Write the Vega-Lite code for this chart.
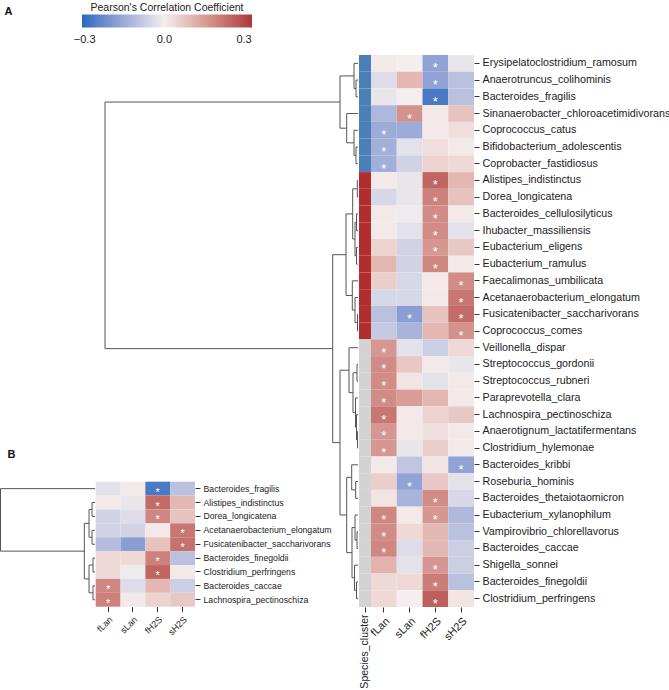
{
"$schema": "https://vega.github.io/schema/vega-lite/v6.json",
"width": 669, "height": 690, "autosize": "none", "padding": 0, "background": "white",
"config": {"view": {"stroke": null}, "font": "Liberation Sans",
  "axis": {"labelFont": "Liberation Sans", "titleFont": "Liberation Sans", "domain": false, "grid": false, "tickColor": "#333", "labelColor": "#222", "tickSize": 5, "labelPadding": 3, "labelLimit": 400},
  "legend": {"labelFont": "Liberation Sans", "titleFont": "Liberation Sans"}},
"datasets": {
"A": [
{"sp":"Erysipelatoclostridium_ramosum","v":"fLan","r":0.01,"s":0},{"sp":"Erysipelatoclostridium_ramosum","v":"sLan","r":0.0,"s":0},{"sp":"Erysipelatoclostridium_ramosum","v":"fH2S","r":-0.17,"s":1},{"sp":"Erysipelatoclostridium_ramosum","v":"sH2S","r":-0.02,"s":0},
{"sp":"Anaerotruncus_colihominis","v":"fLan","r":-0.04,"s":0},{"sp":"Anaerotruncus_colihominis","v":"sLan","r":0.1,"s":0},{"sp":"Anaerotruncus_colihominis","v":"fH2S","r":-0.17,"s":1},{"sp":"Anaerotruncus_colihominis","v":"sH2S","r":-0.1,"s":0},
{"sp":"Bacteroides_fragilis","v":"fLan","r":-0.02,"s":0},{"sp":"Bacteroides_fragilis","v":"sLan","r":0.0,"s":0},{"sp":"Bacteroides_fragilis","v":"fH2S","r":-0.27,"s":1},{"sp":"Bacteroides_fragilis","v":"sH2S","r":-0.1,"s":0},
{"sp":"Sinanaerobacter_chloroacetimidivorans","v":"fLan","r":-0.12,"s":0},{"sp":"Sinanaerobacter_chloroacetimidivorans","v":"sLan","r":0.17,"s":1},{"sp":"Sinanaerobacter_chloroacetimidivorans","v":"fH2S","r":0.01,"s":0},{"sp":"Sinanaerobacter_chloroacetimidivorans","v":"sH2S","r":0.08,"s":0},
{"sp":"Coprococcus_catus","v":"fLan","r":-0.15,"s":1},{"sp":"Coprococcus_catus","v":"sLan","r":-0.15,"s":0},{"sp":"Coprococcus_catus","v":"fH2S","r":0.01,"s":0},{"sp":"Coprococcus_catus","v":"sH2S","r":0.03,"s":0},
{"sp":"Bifidobacterium_adolescentis","v":"fLan","r":-0.14,"s":1},{"sp":"Bifidobacterium_adolescentis","v":"sLan","r":-0.03,"s":0},{"sp":"Bifidobacterium_adolescentis","v":"fH2S","r":0.03,"s":0},{"sp":"Bifidobacterium_adolescentis","v":"sH2S","r":0.01,"s":0},
{"sp":"Coprobacter_fastidiosus","v":"fLan","r":-0.14,"s":1},{"sp":"Coprobacter_fastidiosus","v":"sLan","r":-0.06,"s":0},{"sp":"Coprobacter_fastidiosus","v":"fH2S","r":0.05,"s":0},{"sp":"Coprobacter_fastidiosus","v":"sH2S","r":0.04,"s":0},
{"sp":"Alistipes_indistinctus","v":"fLan","r":0.01,"s":0},{"sp":"Alistipes_indistinctus","v":"sLan","r":-0.02,"s":0},{"sp":"Alistipes_indistinctus","v":"fH2S","r":0.25,"s":1},{"sp":"Alistipes_indistinctus","v":"sH2S","r":0.1,"s":0},
{"sp":"Dorea_longicatena","v":"fLan","r":-0.05,"s":0},{"sp":"Dorea_longicatena","v":"sLan","r":-0.02,"s":0},{"sp":"Dorea_longicatena","v":"fH2S","r":0.2,"s":1},{"sp":"Dorea_longicatena","v":"sH2S","r":0.08,"s":0},
{"sp":"Bacteroides_cellulosilyticus","v":"fLan","r":0.01,"s":0},{"sp":"Bacteroides_cellulosilyticus","v":"sLan","r":-0.01,"s":0},{"sp":"Bacteroides_cellulosilyticus","v":"fH2S","r":0.18,"s":1},{"sp":"Bacteroides_cellulosilyticus","v":"sH2S","r":0.01,"s":0},
{"sp":"Ihubacter_massiliensis","v":"fLan","r":0.01,"s":0},{"sp":"Ihubacter_massiliensis","v":"sLan","r":-0.03,"s":0},{"sp":"Ihubacter_massiliensis","v":"fH2S","r":0.18,"s":1},{"sp":"Ihubacter_massiliensis","v":"sH2S","r":-0.03,"s":0},
{"sp":"Eubacterium_eligens","v":"fLan","r":0.05,"s":0},{"sp":"Eubacterium_eligens","v":"sLan","r":-0.06,"s":0},{"sp":"Eubacterium_eligens","v":"fH2S","r":0.16,"s":1},{"sp":"Eubacterium_eligens","v":"sH2S","r":0.07,"s":0},
{"sp":"Eubacterium_ramulus","v":"fLan","r":0.1,"s":0},{"sp":"Eubacterium_ramulus","v":"sLan","r":-0.06,"s":0},{"sp":"Eubacterium_ramulus","v":"fH2S","r":0.19,"s":1},{"sp":"Eubacterium_ramulus","v":"sH2S","r":0.01,"s":0},
{"sp":"Faecalimonas_umbilicata","v":"fLan","r":0.06,"s":0},{"sp":"Faecalimonas_umbilicata","v":"sLan","r":-0.05,"s":0},{"sp":"Faecalimonas_umbilicata","v":"fH2S","r":0.01,"s":0},{"sp":"Faecalimonas_umbilicata","v":"sH2S","r":0.18,"s":1},
{"sp":"Acetanaerobacterium_elongatum","v":"fLan","r":-0.05,"s":0},{"sp":"Acetanaerobacterium_elongatum","v":"sLan","r":-0.05,"s":0},{"sp":"Acetanaerobacterium_elongatum","v":"fH2S","r":0.01,"s":0},{"sp":"Acetanaerobacterium_elongatum","v":"sH2S","r":0.22,"s":1},
{"sp":"Fusicatenibacter_saccharivorans","v":"fLan","r":-0.1,"s":0},{"sp":"Fusicatenibacter_saccharivorans","v":"sLan","r":-0.18,"s":1},{"sp":"Fusicatenibacter_saccharivorans","v":"fH2S","r":0.08,"s":0},{"sp":"Fusicatenibacter_saccharivorans","v":"sH2S","r":0.24,"s":1},
{"sp":"Coprococcus_comes","v":"fLan","r":-0.08,"s":0},{"sp":"Coprococcus_comes","v":"sLan","r":-0.13,"s":0},{"sp":"Coprococcus_comes","v":"fH2S","r":0.1,"s":0},{"sp":"Coprococcus_comes","v":"sH2S","r":0.17,"s":1},
{"sp":"Veillonella_dispar","v":"fLan","r":0.16,"s":1},{"sp":"Veillonella_dispar","v":"sLan","r":-0.03,"s":0},{"sp":"Veillonella_dispar","v":"fH2S","r":-0.07,"s":0},{"sp":"Veillonella_dispar","v":"sH2S","r":0.04,"s":0},
{"sp":"Streptococcus_gordonii","v":"fLan","r":0.18,"s":1},{"sp":"Streptococcus_gordonii","v":"sLan","r":0.07,"s":0},{"sp":"Streptococcus_gordonii","v":"fH2S","r":0.01,"s":0},{"sp":"Streptococcus_gordonii","v":"sH2S","r":-0.02,"s":0},
{"sp":"Streptococcus_rubneri","v":"fLan","r":0.18,"s":1},{"sp":"Streptococcus_rubneri","v":"sLan","r":0.02,"s":0},{"sp":"Streptococcus_rubneri","v":"fH2S","r":-0.03,"s":0},{"sp":"Streptococcus_rubneri","v":"sH2S","r":0.01,"s":0},
{"sp":"Paraprevotella_clara","v":"fLan","r":0.18,"s":1},{"sp":"Paraprevotella_clara","v":"sLan","r":0.15,"s":0},{"sp":"Paraprevotella_clara","v":"fH2S","r":0.1,"s":0},{"sp":"Paraprevotella_clara","v":"sH2S","r":0.01,"s":0},
{"sp":"Lachnospira_pectinoschiza","v":"fLan","r":0.22,"s":1},{"sp":"Lachnospira_pectinoschiza","v":"sLan","r":0.01,"s":0},{"sp":"Lachnospira_pectinoschiza","v":"fH2S","r":0.05,"s":0},{"sp":"Lachnospira_pectinoschiza","v":"sH2S","r":0.07,"s":0},
{"sp":"Anaerotignum_lactatifermentans","v":"fLan","r":0.16,"s":1},{"sp":"Anaerotignum_lactatifermentans","v":"sLan","r":0.01,"s":0},{"sp":"Anaerotignum_lactatifermentans","v":"fH2S","r":0.03,"s":0},{"sp":"Anaerotignum_lactatifermentans","v":"sH2S","r":0.01,"s":0},
{"sp":"Clostridium_hylemonae","v":"fLan","r":0.16,"s":1},{"sp":"Clostridium_hylemonae","v":"sLan","r":-0.02,"s":0},{"sp":"Clostridium_hylemonae","v":"fH2S","r":0.06,"s":0},{"sp":"Clostridium_hylemonae","v":"sH2S","r":0.01,"s":0},
{"sp":"Bacteroides_kribbi","v":"fLan","r":0.01,"s":0},{"sp":"Bacteroides_kribbi","v":"sLan","r":-0.09,"s":0},{"sp":"Bacteroides_kribbi","v":"fH2S","r":0.02,"s":0},{"sp":"Bacteroides_kribbi","v":"sH2S","r":-0.17,"s":1},
{"sp":"Roseburia_hominis","v":"fLan","r":0.06,"s":0},{"sp":"Roseburia_hominis","v":"sLan","r":-0.17,"s":1},{"sp":"Roseburia_hominis","v":"fH2S","r":0.07,"s":0},{"sp":"Roseburia_hominis","v":"sH2S","r":-0.03,"s":0},
{"sp":"Bacteroides_thetaiotaomicron","v":"fLan","r":0.02,"s":0},{"sp":"Bacteroides_thetaiotaomicron","v":"sLan","r":-0.13,"s":0},{"sp":"Bacteroides_thetaiotaomicron","v":"fH2S","r":0.18,"s":1},{"sp":"Bacteroides_thetaiotaomicron","v":"sH2S","r":-0.05,"s":0},
{"sp":"Eubacterium_xylanophilum","v":"fLan","r":0.19,"s":1},{"sp":"Eubacterium_xylanophilum","v":"sLan","r":0.01,"s":0},{"sp":"Eubacterium_xylanophilum","v":"fH2S","r":0.16,"s":1},{"sp":"Eubacterium_xylanophilum","v":"sH2S","r":-0.12,"s":0},
{"sp":"Vampirovibrio_chlorellavorus","v":"fLan","r":0.18,"s":1},{"sp":"Vampirovibrio_chlorellavorus","v":"sLan","r":0.04,"s":0},{"sp":"Vampirovibrio_chlorellavorus","v":"fH2S","r":0.1,"s":0},{"sp":"Vampirovibrio_chlorellavorus","v":"sH2S","r":-0.1,"s":0},
{"sp":"Bacteroides_caccae","v":"fLan","r":0.19,"s":1},{"sp":"Bacteroides_caccae","v":"sLan","r":-0.04,"s":0},{"sp":"Bacteroides_caccae","v":"fH2S","r":0.1,"s":0},{"sp":"Bacteroides_caccae","v":"sH2S","r":-0.07,"s":0},
{"sp":"Shigella_sonnei","v":"fLan","r":0.11,"s":0},{"sp":"Shigella_sonnei","v":"sLan","r":-0.03,"s":0},{"sp":"Shigella_sonnei","v":"fH2S","r":0.16,"s":1},{"sp":"Shigella_sonnei","v":"sH2S","r":-0.07,"s":0},
{"sp":"Bacteroides_finegoldii","v":"fLan","r":0.04,"s":0},{"sp":"Bacteroides_finegoldii","v":"sLan","r":0.04,"s":0},{"sp":"Bacteroides_finegoldii","v":"fH2S","r":0.21,"s":1},{"sp":"Bacteroides_finegoldii","v":"sH2S","r":-0.1,"s":0},
{"sp":"Clostridium_perfringens","v":"fLan","r":0.04,"s":0},{"sp":"Clostridium_perfringens","v":"sLan","r":0.0,"s":0},{"sp":"Clostridium_perfringens","v":"fH2S","r":0.26,"s":1},{"sp":"Clostridium_perfringens","v":"sH2S","r":0.02,"s":0}
],
"clusters": [
{"sp":"Erysipelatoclostridium_ramosum","c":"1"},{"sp":"Anaerotruncus_colihominis","c":"1"},{"sp":"Bacteroides_fragilis","c":"1"},{"sp":"Sinanaerobacter_chloroacetimidivorans","c":"1"},{"sp":"Coprococcus_catus","c":"1"},{"sp":"Bifidobacterium_adolescentis","c":"1"},{"sp":"Coprobacter_fastidiosus","c":"1"},
{"sp":"Alistipes_indistinctus","c":"2"},{"sp":"Dorea_longicatena","c":"2"},{"sp":"Bacteroides_cellulosilyticus","c":"2"},{"sp":"Ihubacter_massiliensis","c":"2"},{"sp":"Eubacterium_eligens","c":"2"},{"sp":"Eubacterium_ramulus","c":"2"},{"sp":"Faecalimonas_umbilicata","c":"2"},{"sp":"Acetanaerobacterium_elongatum","c":"2"},{"sp":"Fusicatenibacter_saccharivorans","c":"2"},{"sp":"Coprococcus_comes","c":"2"},
{"sp":"Veillonella_dispar","c":"3"},{"sp":"Streptococcus_gordonii","c":"3"},{"sp":"Streptococcus_rubneri","c":"3"},{"sp":"Paraprevotella_clara","c":"3"},{"sp":"Lachnospira_pectinoschiza","c":"3"},{"sp":"Anaerotignum_lactatifermentans","c":"3"},{"sp":"Clostridium_hylemonae","c":"3"},{"sp":"Bacteroides_kribbi","c":"3"},{"sp":"Roseburia_hominis","c":"3"},{"sp":"Bacteroides_thetaiotaomicron","c":"3"},{"sp":"Eubacterium_xylanophilum","c":"3"},{"sp":"Vampirovibrio_chlorellavorus","c":"3"},{"sp":"Bacteroides_caccae","c":"3"},{"sp":"Shigella_sonnei","c":"3"},{"sp":"Bacteroides_finegoldii","c":"3"},{"sp":"Clostridium_perfringens","c":"3"}
],
"B": [
{"sp":"Bacteroides_fragilis","v":"fLan","r":-0.03,"s":0},{"sp":"Bacteroides_fragilis","v":"sLan","r":0.01,"s":0},{"sp":"Bacteroides_fragilis","v":"fH2S","r":-0.27,"s":1},{"sp":"Bacteroides_fragilis","v":"sH2S","r":-0.1,"s":0},
{"sp":"Alistipes_indistinctus","v":"fLan","r":0.01,"s":0},{"sp":"Alistipes_indistinctus","v":"sLan","r":-0.02,"s":0},{"sp":"Alistipes_indistinctus","v":"fH2S","r":0.24,"s":1},{"sp":"Alistipes_indistinctus","v":"sH2S","r":0.1,"s":0},
{"sp":"Dorea_longicatena","v":"fLan","r":-0.06,"s":0},{"sp":"Dorea_longicatena","v":"sLan","r":-0.04,"s":0},{"sp":"Dorea_longicatena","v":"fH2S","r":0.19,"s":1},{"sp":"Dorea_longicatena","v":"sH2S","r":0.08,"s":0},
{"sp":"Acetanaerobacterium_elongatum","v":"fLan","r":-0.06,"s":0},{"sp":"Acetanaerobacterium_elongatum","v":"sLan","r":-0.06,"s":0},{"sp":"Acetanaerobacterium_elongatum","v":"fH2S","r":0.01,"s":0},{"sp":"Acetanaerobacterium_elongatum","v":"sH2S","r":0.22,"s":1},
{"sp":"Fusicatenibacter_saccharivorans","v":"fLan","r":-0.11,"s":0},{"sp":"Fusicatenibacter_saccharivorans","v":"sLan","r":-0.18,"s":0},{"sp":"Fusicatenibacter_saccharivorans","v":"fH2S","r":0.08,"s":0},{"sp":"Fusicatenibacter_saccharivorans","v":"sH2S","r":0.23,"s":1},
{"sp":"Bacteroides_finegoldii","v":"fLan","r":0.04,"s":0},{"sp":"Bacteroides_finegoldii","v":"sLan","r":0.04,"s":0},{"sp":"Bacteroides_finegoldii","v":"fH2S","r":0.2,"s":1},{"sp":"Bacteroides_finegoldii","v":"sH2S","r":-0.1,"s":0},
{"sp":"Clostridium_perfringens","v":"fLan","r":0.04,"s":0},{"sp":"Clostridium_perfringens","v":"sLan","r":-0.01,"s":0},{"sp":"Clostridium_perfringens","v":"fH2S","r":0.25,"s":1},{"sp":"Clostridium_perfringens","v":"sH2S","r":0.01,"s":0},
{"sp":"Bacteroides_caccae","v":"fLan","r":0.19,"s":1},{"sp":"Bacteroides_caccae","v":"sLan","r":-0.04,"s":0},{"sp":"Bacteroides_caccae","v":"fH2S","r":0.1,"s":0},{"sp":"Bacteroides_caccae","v":"sH2S","r":-0.07,"s":0},
{"sp":"Lachnospira_pectinoschiza","v":"fLan","r":0.2,"s":1},{"sp":"Lachnospira_pectinoschiza","v":"sLan","r":0.01,"s":0},{"sp":"Lachnospira_pectinoschiza","v":"fH2S","r":0.05,"s":0},{"sp":"Lachnospira_pectinoschiza","v":"sH2S","r":0.07,"s":0}
],
"treeA": [
{"h":0.2,"hL":0,"yL":1,"hR":0,"yR":2},
{"h":0.4,"hL":0,"yL":0,"hR":0.2,"yR":1.5},
{"h":0.2,"hL":0,"yL":5,"hR":0,"yR":6},
{"h":0.4,"hL":0,"yL":4,"hR":0.2,"yR":5.5},
{"h":1.13,"hL":0,"yL":3,"hR":0.4,"yR":4.75},
{"h":1.8,"hL":0.4,"yL":0.75,"hR":1.13,"yR":3.875},
{"h":0.07,"hL":0,"yL":7,"hR":0,"yR":8},
{"h":0.15,"hL":0,"yL":9,"hR":0,"yR":10},
{"h":0.15,"hL":0,"yL":11,"hR":0,"yR":12},
{"h":0.3,"hL":0.15,"yL":9.5,"hR":0.15,"yR":11.5},
{"h":0.53,"hL":0.07,"yL":7.5,"hR":0.3,"yR":10.5},
{"h":0.05,"hL":0,"yL":15,"hR":0,"yR":16},
{"h":0.3,"hL":0,"yL":14,"hR":0.05,"yR":15.5},
{"h":0.57,"hL":0,"yL":13,"hR":0.3,"yR":14.75},
{"h":1.2,"hL":0.53,"yL":9,"hR":0.57,"yR":13.875},
{"h":0.1,"hL":0,"yL":18,"hR":0,"yR":19},
{"h":0.05,"hL":0,"yL":22,"hR":0,"yR":23},
{"h":0.15,"hL":0,"yL":21,"hR":0.05,"yR":22.5},
{"h":0.25,"hL":0,"yL":20,"hR":0.15,"yR":21.75},
{"h":0.5,"hL":0.1,"yL":18.5,"hR":0.25,"yR":20.875},
{"h":0.9,"hL":0,"yL":17,"hR":0.5,"yR":19.6875},
{"h":0.23,"hL":0,"yL":25,"hR":0,"yR":26},
{"h":0.63,"hL":0,"yL":24,"hR":0.23,"yR":25.5},
{"h":0.1,"hL":0,"yL":28,"hR":0,"yR":29},
{"h":0.3,"hL":0,"yL":27,"hR":0.1,"yR":28.5},
{"h":0.15,"hL":0,"yL":31,"hR":0,"yR":32},
{"h":0.35,"hL":0,"yL":30,"hR":0.15,"yR":31.5},
{"h":0.6,"hL":0.3,"yL":27.75,"hR":0.35,"yR":30.75},
{"h":1.13,"hL":0.63,"yL":24.75,"hR":0.6,"yR":29.25},
{"h":1.8,"hL":0.9,"yL":18.34375,"hR":1.13,"yR":27},
{"h":2.53,"hL":1.2,"yL":11.4375,"hR":1.8,"yR":22.671875},
{"h":25.3,"hL":1.8,"yL":2.3125,"hR":2.53,"yR":17.0546875}
],
"treeB": [
{"h":0.3,"hL":0,"yL":1,"hR":0,"yR":2},
{"h":0.3,"hL":0,"yL":3,"hR":0,"yR":4},
{"h":0.6,"hL":0.3,"yL":1.5,"hR":0.3,"yR":3.5},
{"h":0.2,"hL":0,"yL":5,"hR":0,"yR":6},
{"h":0.2,"hL":0,"yL":7,"hR":0,"yR":8},
{"h":0.6,"hL":0.2,"yL":5.5,"hR":0.2,"yR":7.5},
{"h":1.07,"hL":0.6,"yL":2.5,"hR":0.6,"yR":6.5},
{"h":9.5,"hL":0,"yL":0,"hR":1.07,"yR":4.5}
]
},
"resolve": {"scale": {"x": "independent", "y": "independent", "color": "shared", "fill": "independent"}, "axis": {"x": "independent", "y": "independent"}},
"layer": [
{"data": {"name": "treeA"},
 "layer": [
  {"mark": {"type": "rule", "color": "#555", "strokeWidth": 1},
   "encoding": {"x": {"field": "hL", "type": "quantitative", "scale": {"domain": [0, 25.3], "range": [358, 105], "nice": false, "zero": false}, "axis": null},
     "x2": {"field": "h"},
     "y": {"field": "yL", "type": "quantitative", "scale": {"domain": [-0.5, 32.5], "range": [55, 607], "nice": false, "zero": false},
       "axis": {"orient": "left", "title": "A", "labels": false, "ticks": false, "domain": false, "titleAngle": 0, "titleX": 4, "titleY": 5, "titleAlign": "left", "titleBaseline": "top", "titleFontSize": 11, "titleFontWeight": "bold", "titleColor": "#111"}}}},
  {"mark": {"type": "rule", "color": "#555", "strokeWidth": 1},
   "encoding": {"x": {"field": "hR", "type": "quantitative"}, "x2": {"field": "h"}, "y": {"field": "yR", "type": "quantitative"}}},
  {"mark": {"type": "rule", "color": "#555", "strokeWidth": 1},
   "encoding": {"x": {"field": "h", "type": "quantitative"}, "y": {"field": "yL", "type": "quantitative"}, "y2": {"field": "yR"}}}
 ]},
{"data": {"name": "treeB"},
 "layer": [
  {"mark": {"type": "rule", "color": "#555", "strokeWidth": 1},
   "encoding": {"x": {"field": "hL", "type": "quantitative", "scale": {"domain": [0, 9.5], "range": [95, 0.5], "nice": false, "zero": false}, "axis": null},
     "x2": {"field": "h"},
     "y": {"field": "yL", "type": "quantitative", "scale": {"domain": [-0.5, 8.5], "range": [481.7, 606.7], "nice": false, "zero": false},
       "axis": {"orient": "left", "title": "B", "labels": false, "ticks": false, "domain": false, "titleAngle": 0, "titleX": 7, "titleY": 448, "titleAlign": "left", "titleBaseline": "top", "titleFontSize": 11, "titleFontWeight": "bold", "titleColor": "#111"}}}},
  {"mark": {"type": "rule", "color": "#555", "strokeWidth": 1},
   "encoding": {"x": {"field": "hR", "type": "quantitative"}, "x2": {"field": "h"}, "y": {"field": "yR", "type": "quantitative"}}},
  {"mark": {"type": "rule", "color": "#555", "strokeWidth": 1},
   "encoding": {"x": {"field": "h", "type": "quantitative"}, "y": {"field": "yL", "type": "quantitative"}, "y2": {"field": "yR"}}}
 ]},
{"data": {"name": "clusters"},
 "mark": {"type": "rect"},
 "encoding": {
   "x": {"datum": "Species_cluster", "type": "nominal", "scale": {"domain": ["Species_cluster"], "range": [359, 371], "paddingInner": 0, "paddingOuter": 0},
     "axis": {"orient": "bottom", "offset": -83, "title": null, "labelAngle": -90, "labelFontSize": 10.5, "labelPadding": 2, "labelColor": "#222"}},
   "y": {"field": "sp", "type": "nominal", "sort": null, "scale": {"range": [55, 607], "paddingInner": 0, "paddingOuter": 0}, "axis": null},
   "fill": {"field": "c", "type": "nominal", "scale": {"domain": ["1", "2", "3"], "range": ["#4c7fb8", "#b22d2e", "#d3d3d3"]}, "legend": null}}},
{"data": {"name": "A"},
 "encoding": {
   "x": {"field": "v", "type": "nominal", "sort": null, "scale": {"domain": ["fLan", "sLan", "fH2S", "sH2S"], "range": [371, 474], "paddingInner": 0, "paddingOuter": 0},
     "axis": {"orient": "bottom", "offset": -83, "title": null, "labelAngle": -45, "labelFontSize": 11}},
   "y": {"field": "sp", "type": "nominal", "sort": null, "scale": {"range": [55, 607], "paddingInner": 0, "paddingOuter": 0},
     "axis": {"orient": "right", "offset": -195, "title": null, "labelFontSize": 10.7, "labelPadding": 3}}},
 "layer": [
  {"mark": {"type": "rect"},
   "encoding": {"color": {"field": "r", "type": "quantitative",
      "scale": {"domain": [-0.31, 0, 0.33], "range": ["#2369bd", "#f4efee", "#a9373b"], "interpolate": "lab"},
      "legend": {"orient": "none", "legendX": 82, "legendY": 3, "direction": "horizontal", "gradientLength": 170, "gradientThickness": 13, "title": "Pearson's Correlation Coefficient", "titleAnchor": "middle", "titleFontSize": 10.5, "titleFontWeight": "normal", "titleColor": "#222", "titlePadding": 1, "labelFontSize": 11, "labelColor": "#222", "values": [-0.3, 0, 0.3], "format": ".1f", "labelOffset": 6}}}},
  {"transform": [{"filter": "datum.s == 1"}],
   "mark": {"type": "text", "text": "*", "color": "white", "fontSize": 13, "dy": 5}}
 ]},
{"data": {"name": "B"},
 "encoding": {
   "x": {"field": "v", "type": "nominal", "sort": null, "scale": {"domain": ["fLan", "sLan", "fH2S", "sH2S"], "range": [95.7, 195], "paddingInner": 0, "paddingOuter": 0},
     "axis": {"orient": "bottom", "offset": -83.3, "title": null, "labelAngle": -45, "labelFontSize": 9}},
   "y": {"field": "sp", "type": "nominal", "sort": null, "scale": {"range": [481.7, 606.7], "paddingInner": 0, "paddingOuter": 0},
     "axis": {"orient": "right", "offset": -474, "title": null, "labelFontSize": 8.7, "labelPadding": 3}}},
 "layer": [
  {"mark": {"type": "rect"},
   "encoding": {"color": {"field": "r", "type": "quantitative"}}},
  {"transform": [{"filter": "datum.s == 1"}],
   "mark": {"type": "text", "text": "*", "color": "white", "fontSize": 11, "dy": 4}}
 ]}
]
}
